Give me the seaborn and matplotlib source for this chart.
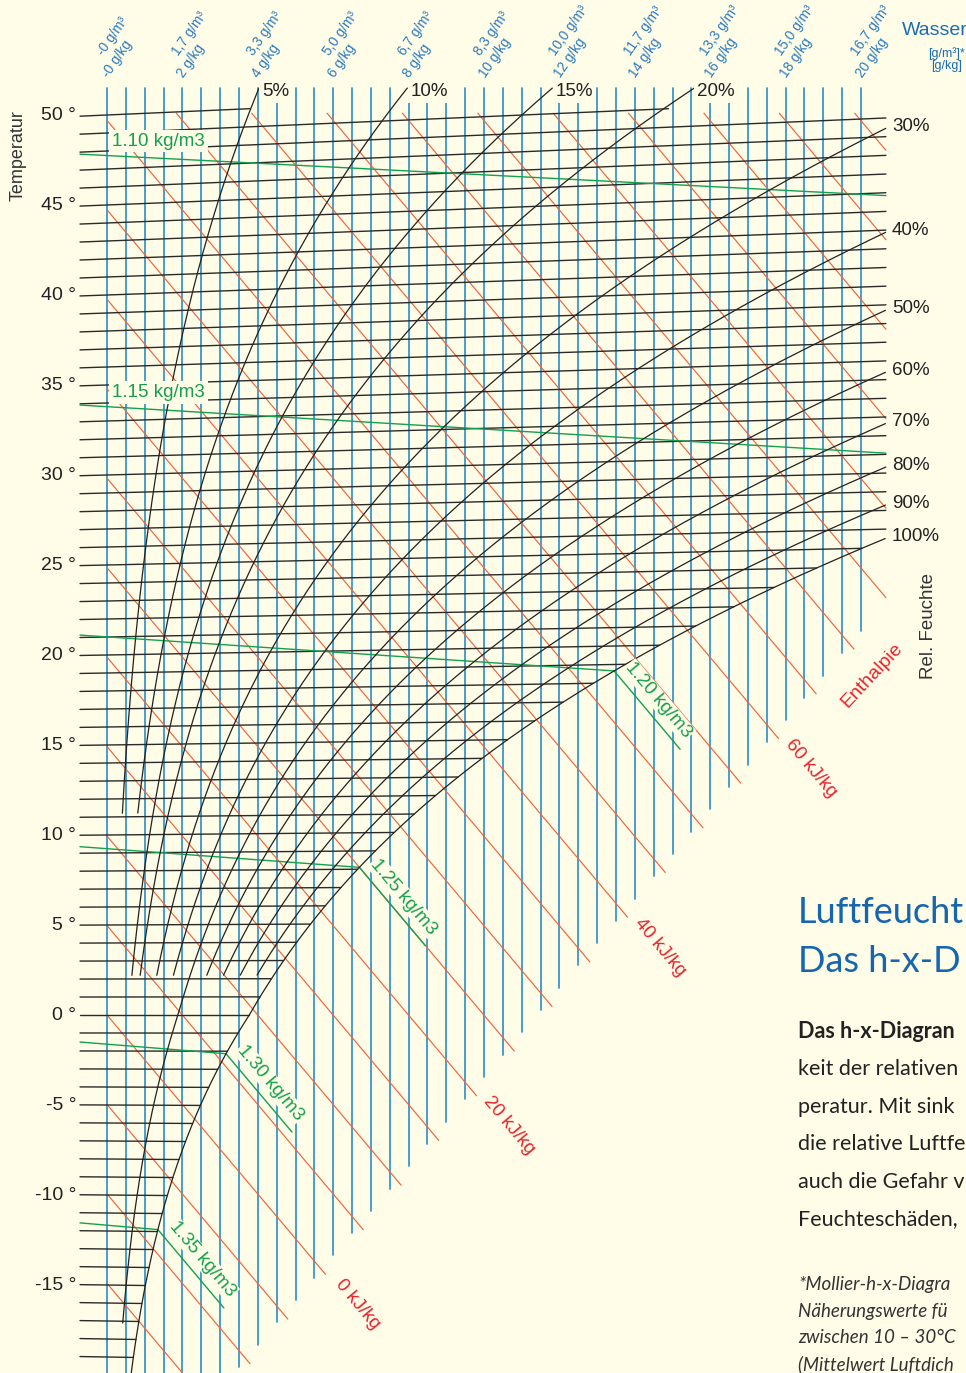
import numpy as np
import pandas as pd
import matplotlib
matplotlib.use("Agg")
import matplotlib.pyplot as plt
import seaborn as sns

# ---------------- values ----------------
isotherm_temps = list(range(-19, 51))                 # °C, one line per degree
temp_tick_values = list(range(-15, 55, 5))            # labelled temperatures
rh_levels = [5, 10, 15, 20, 30, 40, 50, 60, 70, 80, 90, 100]          # %
rh_lower_end_t = [11.2, 11.2, 2.2, 2.2, 2.2, 2.2, -17.1, 2.2, 2.2, 2.2, 2.2, -22.0]
rh_top_labelled = [5, 10, 15, 20]
enthalpy_values = list(range(-20, 105, 5))            # kJ/kg
enthalpy_labelled = [0, 20, 40, 60]
density_values = [1.10, 1.15, 1.20, 1.25, 1.30, 1.35]  # kg/m3
density_left_labelled = [1.10, 1.15]
water_lines_gkg = [i * 0.5 for i in range(41)]        # vertical lines 0 ... 20 g/kg
top_gkg = [0, 2, 4, 6, 8, 10, 12, 14, 16, 18, 20]
top_gkg_text = ["-0 g/kg", "2 g/kg", "4 g/kg", "6 g/kg", "8 g/kg", "10 g/kg",
                "12 g/kg", "14 g/kg", "16 g/kg", "18 g/kg", "20 g/kg"]
top_gm3_text = ["-0 g/m³", "1,7 g/m³", "3,3 g/m³", "5,0 g/m³", "6,7 g/m³", "8,3 g/m³",
                "10,0 g/m³", "11,7 g/m³", "13,3 g/m³", "15,0 g/m³", "16,7 g/m³"]

# text block (only the part that is visible in the reference crop)
title_lines = ["Luftfeucht", "Das h-x-D"]
para_bold = "Das h-x-Diagran"
para_lines = ["keit der relativen", "peratur. Mit sink", "die relative Luftfe",
              "auch die Gefahr v", "Feuchteschäden,"]
foot_lines = ["*Mollier-h-x-Diagra", "Näherungswerte fü", "zwischen 10 – 30°C",
              "(Mittelwert Luftdich"]

# ---------------- style ----------------
BG = "#FFFCE8"
BLUE = "#3093c9"
RED = "#f0643c"
RED_TXT = "#e8232b"
GREEN = "#14a04e"
BLACK = "#222222"
LBLUE_TXT = "#2a7abf"

sns.set_theme(style="white")
plt.rcParams["font.family"] = ["Liberation Sans", "DejaVu Sans"]

# ---------------- Mollier h-x relations ----------------
P_HPA = 1013.25


def p_sat(t):
    t = np.asarray(t, float)
    water = 6.112 * np.exp(17.62 * t / (243.12 + t))
    ice = 6.112 * np.exp(22.46 * t / (272.62 + t))
    return np.where(t >= 0, water, ice)


def x_moist(phi, t):
    pv = phi * p_sat(t)
    return 622.0 * pv / (P_HPA - pv)


def v_coord(t, x):
    return t * (1 + 0.00185 * x)


def t_density(rho, x):
    xx = np.asarray(x, float) / 1000.0
    T = P_HPA * 100 * (1 + xx) / (287.05 * rho * (1 + 1.608 * xx))
    return T - 273.15


def v_enth(h, x):
    return (h - 2.501 * np.asarray(x, float)) / 1.006


# chart frame (g/kg, °C-scale)
X_ISO0 = -0.716
X_RIGHT = 20.66
V_TOP = 51.5
V_TOP_ISO = 50.35
V_TOP_H = 50.1


def v_cut_blue(x):
    return -14.67 + 2.478 * (np.asarray(x, float) - 5.47)


RED_SHIFT = 0.55

fig = plt.figure(figsize=(9.66, 13.73), dpi=100)
fig.patch.set_facecolor(BG)
ax = fig.add_axes([0, 0, 1, 1])
ax.set_xlim(-107 / 37.7, 859 / 37.7)
ax.set_ylim(-358 / 18, 1015 / 18)
ax.set_facecolor(BG)


def draw(rows, color, lw, z):
    df = pd.DataFrame(rows, columns=["id", "x", "v"])
    sns.lineplot(data=df, x="x", y="v", units="id", estimator=None, sort=False,
                 color=color, lw=lw, ax=ax, legend=False, zorder=z)


# ---- vertical water-content lines ----
rows = []
for i, g in enumerate(water_lines_gkg):
    vb = max(float(v_cut_blue(g)), -21.0)
    rows += [(i, g, V_TOP), (i, g, vb)]
draw(rows, BLUE, 1.25, 1)

# ---- enthalpy lines ----
rows = []
h_ends = {}
for i, h in enumerate(enthalpy_values):
    xs = max(0.0, (h - 1.006 * V_TOP_H) / 2.501)
    xe_cut = (h / 1.006 + 14.67 + RED_SHIFT + 2.478 * 5.47) / (2.478 + 2.501 / 1.006)
    xe = min(X_RIGHT, xe_cut)
    h_ends[h] = (xe_cut, float(v_enth(h, xe_cut)))
    if xe > xs:
        rows += [(i, xs, float(v_enth(h, xs))), (i, xe, float(v_enth(h, xe)))]
draw(rows, RED, 0.85, 2)

# ---- isotherms ----
rows = []
for i, t in enumerate(isotherm_temps):
    xe = min(float(x_moist(1.0, t)), X_RIGHT)
    if t > 0:
        xe = min(xe, (V_TOP_ISO / t - 1) / 0.00185)
    if xe > X_ISO0:
        rows += [(i, X_ISO0, v_coord(t, X_ISO0)), (i, xe, v_coord(t, xe))]
draw(rows, "#2a2a2a", 1.0, 3)

# ---- density lines ----
rows = []
fog = []
for i, rho in enumerate(density_values):
    lo, hi = 0.0, 40.0
    for _ in range(60):
        mid = 0.5 * (lo + hi)
        if mid - float(x_moist(1.0, t_density(rho, mid))) < 0:
            lo = mid
        else:
            hi = mid
    xsat = 0.5 * (lo + hi)
    xe = min(xsat, X_RIGHT)
    xx = np.linspace(X_ISO0, xe, 60)
    vv = v_coord(t_density(rho, xx), xx)
    rows += [(i, a, b) for a, b in zip(xx, vv)]
    if xsat < X_RIGHT:
        vs = float(v_coord(t_density(rho, xsat), xsat))
        x2 = xsat + 1.75
        v2 = vs - 2.501 / 1.006 * 1.75
        rows += [(100 + i, xsat, vs), (100 + i, x2, v2)]
        fog.append((rho, xsat, vs, x2, v2))
draw(rows, GREEN, 1.0, 4)

# ---- relative humidity curves ----
rows = []
rh_ends = {}
for i, (phi, tlow) in enumerate(zip(rh_levels, rh_lower_end_t)):
    tt = np.linspace(tlow, 56, 5000)
    xx = x_moist(phi / 100.0, tt)
    vv = v_coord(tt, xx)
    keep = (xx <= X_RIGHT) & (vv <= V_TOP)
    n = len(keep) if keep.all() else int(np.argmin(keep))
    xx, vv = xx[:n], vv[:n]
    rh_ends[phi] = (xx[-1], vv[-1])
    rows += [(i, a, b) for a, b in zip(xx, vv)]
draw(rows, BLACK, 0.9, 5)

# ---------------- labels ----------------
box = dict(boxstyle="square,pad=0.15", fc=BG, ec="none")

for T in temp_tick_values:
    ax.text(-31 / 37.7, T, f"{T} °", ha="right", va="center", fontsize=14,
            color="#222222", zorder=6)

for phi in rh_levels:
    xe, ve = rh_ends[phi]
    if phi in rh_top_labelled:
        ax.text(xe + 0.08, 51.28, f"{phi}%", ha="left", va="center", fontsize=13.5,
                color="#222222", bbox=box, zorder=7)
    else:
        ax.text(785 / 37.7, ve + 0.1, f"{phi}%", ha="left", va="center", fontsize=13.5,
                color="#222222", zorder=7)

for rho in density_left_labelled:
    v0 = float(t_density(rho, 0.0))
    ax.text(5 / 37.7, v0 + 0.8, f"{rho:.2f} kg/m3", ha="left", va="center",
            fontsize=13.5, color=GREEN, bbox=box, zorder=7)

for rho, xs, vs, x2, v2 in fog:
    xm, vm = 0.5 * (xs + x2), 0.5 * (vs + v2)
    ax.text(xm + 0.305, vm + 0.54, f"{rho:.2f} kg/m3", ha="center", va="center",
            rotation=-49.9, rotation_mode="anchor", fontsize=13.5, color=GREEN,
            bbox=dict(boxstyle="square,pad=0.05", fc=BG, ec="none"), zorder=7)

for h in enthalpy_labelled:
    xe, ve = h_ends[h]
    ax.text(xe + 0.85, ve - 1.67, f"{h} kJ/kg", ha="center", va="center",
            rotation=-50, rotation_mode="anchor", fontsize=13.5, color=RED_TXT, zorder=7)

ax.text(765 / 37.7, 340 / 18, "Enthalpie", ha="center", va="center", rotation=47,
        rotation_mode="anchor", fontsize=14, color=RED_TXT, zorder=7)
ax.text(821 / 37.7, 389 / 18, "Rel. Feuchte", ha="center", va="center", rotation=90,
        fontsize=13.5, color="#333333", zorder=7)
ax.text(-89 / 37.7, 859 / 18, "Temperatur", ha="center", va="center", rotation=90,
        fontsize=13, color="#333333", zorder=7)

for g, t1, t2 in zip(top_gkg, top_gkg_text, top_gm3_text):
    ax.text(g + 0.03, 937 / 18, t1, rotation=55, rotation_mode="anchor", ha="left",
            va="baseline", fontsize=9.8, color=LBLUE_TXT, zorder=7)
    ax.text(g - 0.1, 959 / 18, t2, rotation=55, rotation_mode="anchor", ha="left",
            va="baseline", fontsize=9.8, color=LBLUE_TXT, zorder=7)

ax.text(795 / 37.7, 980 / 18, "Wasser", ha="left", va="baseline", fontsize=14,
        color="#1b6db3", zorder=7)
ax.text(821 / 37.7, 958 / 18, "[g/m³]*", ha="left", va="baseline", fontsize=9,
        color="#1b6db3", zorder=7)
ax.text(824 / 37.7, 946 / 18, "[g/kg]", ha="left", va="baseline", fontsize=9,
        color="#1b6db3", zorder=7)

ax.axis("off")

# ---------------- text block at the right ----------------
W, H = 966, 1373


def ftxt(px, py, s, **kw):
    fig.text(px / W, 1 - py / H, s, va="baseline", **kw)


ftxt(798, 923, title_lines[0], fontsize=26, color="#1565b0", family="Lato")
ftxt(798, 972, title_lines[1], fontsize=26, color="#1565b0", family="Lato")
ftxt(798, 1038, para_bold, fontsize=15.5, color="#222222", family="Lato", weight="bold")
for k, line in enumerate(para_lines):
    ftxt(798, 1075 + 37.6 * k, line, fontsize=15.5, color="#222222", family="Lato")
for k, line in enumerate(foot_lines):
    ftxt(798, 1290 + 26.6 * k, line, fontsize=13.5, color="#333333", family="Lato",
         style="italic")

fig.savefig("out.png", dpi=100, facecolor=BG)
